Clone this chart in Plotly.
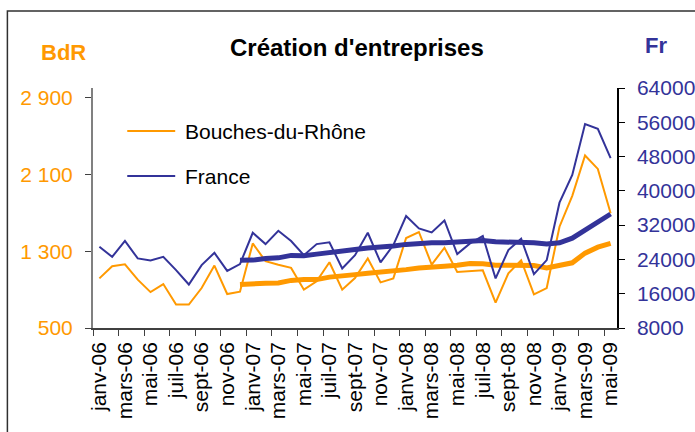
import plotly.graph_objects as go

# ---------------- data ----------------
months = ["janv", "févr", "mars", "avr", "mai", "juin", "juil", "août", "sept", "oct", "nov", "déc"]
categories = [f"{m}-{y:02d}" for y in (6, 7, 8, 9) for m in months][:41]

bdr = [1017, 1143, 1164, 1004, 874, 958, 744, 744, 916, 1150, 854, 878,
       1381, 1196, 1158, 1126, 899, 986, 1185, 899, 1021, 1224, 975, 1017,
       1437, 1500, 1161, 1336, 1084, 1090, 1101, 765, 1070, 1206, 850, 916,
       1555, 1877, 2297, 2157, 1696]

france = [26950, 24600, 28350, 24230, 23770, 24600, 21500, 18150, 22670, 25540, 21330, 22900,
          30220, 27580, 30690, 28280, 25000, 27580, 27980, 21890, 25000, 30220, 23300, 27340,
          34130, 31250, 30310, 33100, 25240, 27740, 29450, 19560, 26180, 28820, 20560, 23840,
          37240, 43720, 55580, 54480, 47620]

# smoothed (thick) series, from déc-06 onwards
bdr_trend = [954, 965, 967, 969, 996, 1004, 1004, 1030, 1038, 1056, 1070, 1080,
             1095, 1108, 1126, 1129, 1143, 1154, 1171, 1168, 1154, 1154, 1154, 1150,
             1126, 1150, 1179, 1280, 1342, 1381]
france_trend = [23800, 23840, 24230, 24370, 24940, 24840, 25240, 25700, 25940, 26340, 26640, 26800,
                27110, 27510, 27740, 27880, 27880, 28050, 28210, 28440, 28120, 28120, 28120, 27880,
                27580, 27880, 28950, 30900, 32900, 34600]
trend_categories = categories[11:]

left_ticks = [500, 1300, 2100, 2900]
left_ticktext = ["500", "1 300", "2 100", "2 900"]
right_ticks = [8000, 16000, 24000, 32000, 40000, 48000, 56000, 64000]
right_ticktext = ["8000", "16000", "24000", "32000", "40000", "48000", "56000", "64000"]

ORANGE = "#FF9900"
BLUE = "#333399"
FONT = "Liberation Sans, Arial, sans-serif"

W, H = 695, 432
L, R, T, B = 92.7, 617.3, 88, 328


def px(x):
    return (x - L) / (R - L)


def py(y):
    return (B - y) / (B - T)


fig = go.Figure()
fig.add_trace(go.Scatter(x=categories, y=bdr, mode="lines", name="Bouches-du-Rhône",
                         line=dict(color=ORANGE, width=2), yaxis="y", showlegend=False))
fig.add_trace(go.Scatter(x=categories, y=france, mode="lines", name="France",
                         line=dict(color=BLUE, width=2), yaxis="y2", showlegend=False))
fig.add_trace(go.Scatter(x=trend_categories, y=bdr_trend, mode="lines",
                         line=dict(color=ORANGE, width=5), yaxis="y", showlegend=False))
fig.add_trace(go.Scatter(x=trend_categories, y=france_trend, mode="lines",
                         line=dict(color=BLUE, width=5), yaxis="y2", showlegend=False))

fig.update_layout(
    template="none",
    width=W, height=H, autosize=False,
    margin=dict(l=L, r=W - R, t=T, b=H - B, pad=0, autoexpand=False),
    paper_bgcolor="white", plot_bgcolor="white",
    font=dict(family=FONT, size=21, color="black"),
    xaxis=dict(type="category", categoryorder="array", categoryarray=categories,
               range=[-0.5, 40.5], tickmode="linear", tick0=0, dtick=2,
               tickson="boundaries", ticks="outside", ticklen=6, tickcolor="#404040",
               tickangle=-90, tickfont=dict(size=21, color="black"),
               showline=True, linecolor="#404040", linewidth=1.5, automargin=False,
               showgrid=False, zeroline=False, ticklabelstandoff=4),
    yaxis=dict(range=[500, 3000], tickvals=left_ticks, ticktext=left_ticktext,
               ticks="outside", ticklen=6, tickcolor="#404040",
               tickfont=dict(size=21, color=ORANGE), automargin=False,
               showline=True, linecolor="#808080", linewidth=2,
               showgrid=False, zeroline=False, ticklabelstandoff=8),
    yaxis2=dict(range=[8000, 64000], tickvals=right_ticks, ticktext=right_ticktext,
                overlaying="y", side="right",
                ticks="outside", ticklen=6, tickcolor="black",
                tickfont=dict(size=21, color=BLUE), automargin=False,
                showline=True, linecolor="black", linewidth=1.5,
                showgrid=False, zeroline=False, ticklabelstandoff=8),
    showlegend=False,
)

# outer frame
fig.add_shape(type="rect", xref="paper", yref="paper",
              x0=px(7), x1=px(760), y0=py(500), y1=py(11),
              line=dict(color="#303030", width=1.5), layer="below")

# titles
fig.add_annotation(text="<b>Création d'entreprises</b>", xref="paper", yref="paper",
                   x=px(357), y=py(48), showarrow=False, xanchor="center", yanchor="middle",
                   font=dict(size=24, color="black", family=FONT))
fig.add_annotation(text="<b>BdR</b>", xref="paper", yref="paper",
                   x=px(63), y=py(52), showarrow=False, xanchor="center", yanchor="middle",
                   font=dict(size=22, color=ORANGE, family=FONT))
fig.add_annotation(text="<b>Fr</b>", xref="paper", yref="paper",
                   x=px(656), y=py(46), showarrow=False, xanchor="center", yanchor="middle",
                   font=dict(size=22, color=BLUE, family=FONT))

# legend (drawn manually to match the long legend lines)
for name, color, ly in (("Bouches-du-Rhône", ORANGE, 131), ("France", BLUE, 176)):
    fig.add_shape(type="line", xref="paper", yref="paper",
                  x0=px(127), x1=px(175), y0=py(ly), y1=py(ly),
                  line=dict(color=color, width=2))
    fig.add_annotation(text=name, xref="paper", yref="paper",
                       x=px(183), y=py(ly), showarrow=False, xanchor="left", yanchor="middle",
                       font=dict(size=21, color="black", family=FONT))

fig.write_html("out.html", config={"displayModeBar": False},
               post_script="document.body.style.margin='0';")
